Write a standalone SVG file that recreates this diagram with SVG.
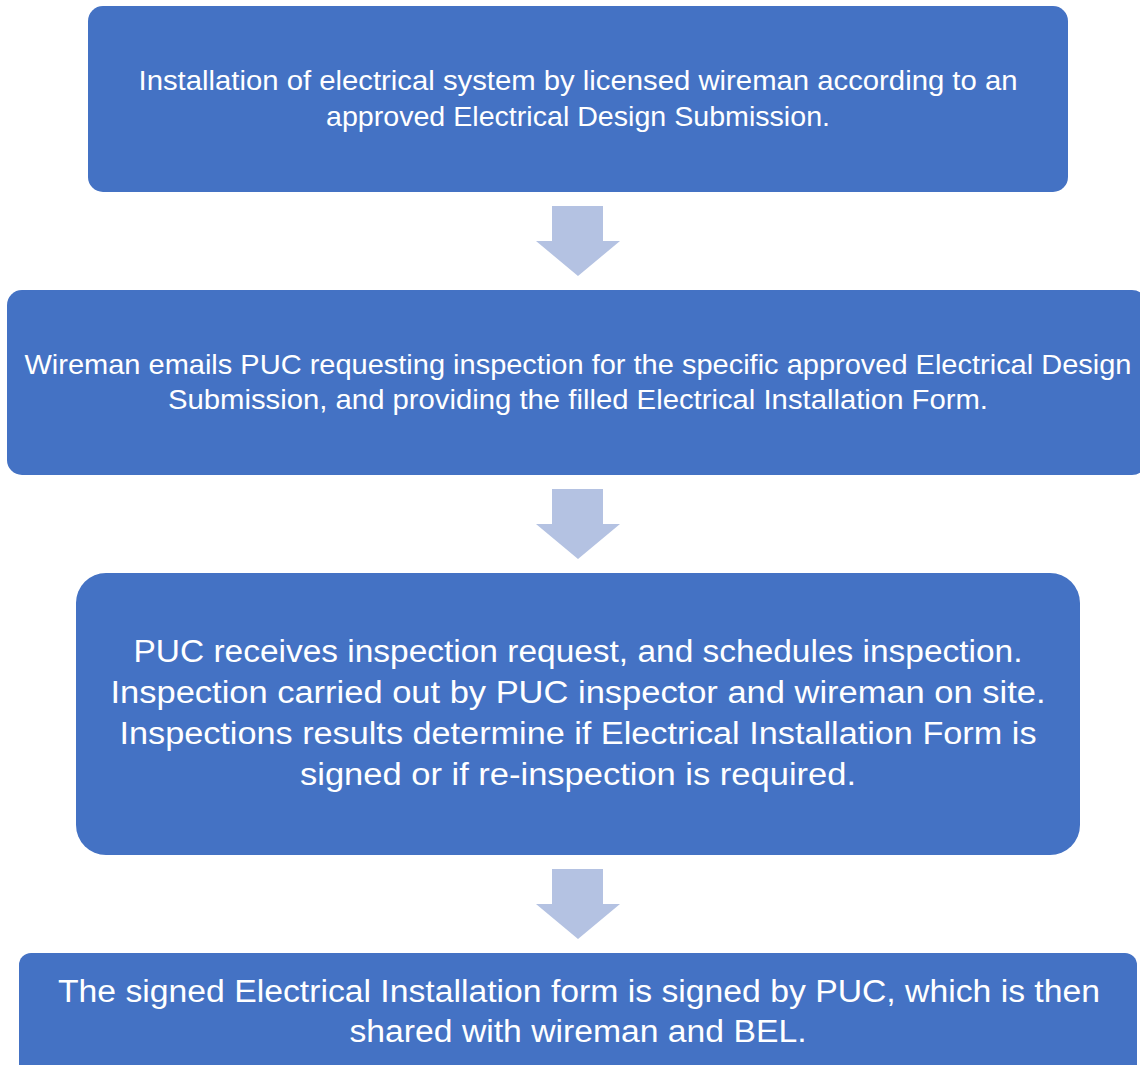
<svg xmlns="http://www.w3.org/2000/svg" width="1140" height="1065" viewBox="0 0 1140 1065">
<style>
.box{fill:#4472C4;}
.arr{fill:#B4C2E2;}
.t{font-family:"Liberation Sans",Arial,sans-serif;fill:#ffffff;text-anchor:middle;}
.s1{font-size:27.5px;}
.s2{font-size:31px;}
</style>
<rect width="1140" height="1065" fill="#ffffff"/>
<g id="connectors">
<polygon class="arr" points="552,206 603,206 603,241 620,241 578,276 536,241 552,241"/>
<polygon class="arr" points="552,489 603,489 603,524 620,524 578,559 536,524 552,524"/>
<polygon class="arr" points="552,869 603,869 603,904 620,904 578,939 536,904 552,904"/>
</g>
<g id="node1">
<rect class="box" x="88" y="6" width="980" height="186" rx="15"/>
<text class="t s1" x="578" y="90" textLength="879" lengthAdjust="spacingAndGlyphs">Installation of electrical system by licensed wireman according to an</text>
<text class="t s1" x="578" y="126" textLength="504" lengthAdjust="spacingAndGlyphs">approved Electrical Design Submission.</text>
</g>
<g id="node2">
<rect class="box" x="7" y="290" width="1140" height="185" rx="15"/>
<text class="t s1" x="578" y="374" textLength="1107" lengthAdjust="spacingAndGlyphs">Wireman emails PUC requesting inspection for the specific approved Electrical Design</text>
<text class="t s1" x="578" y="409" textLength="820" lengthAdjust="spacingAndGlyphs">Submission, and providing the filled Electrical Installation Form.</text>
</g>
<g id="node3">
<rect class="box" x="76" y="573" width="1004" height="282" rx="30"/>
<text class="t s2" x="578" y="662" textLength="889" lengthAdjust="spacingAndGlyphs">PUC receives inspection request, and schedules inspection.</text>
<text class="t s2" x="578" y="703" textLength="935" lengthAdjust="spacingAndGlyphs">Inspection carried out by PUC inspector and wireman on site.</text>
<text class="t s2" x="578" y="744" textLength="917" lengthAdjust="spacingAndGlyphs">Inspections results determine if Electrical Installation Form is</text>
<text class="t s2" x="578" y="785" textLength="556" lengthAdjust="spacingAndGlyphs">signed or if re-inspection is required.</text>
</g>
<g id="node4">
<rect class="box" x="19" y="953" width="1118" height="140" rx="12"/>
<text class="t s2" x="579" y="1002" textLength="1042" lengthAdjust="spacingAndGlyphs">The signed Electrical Installation form is signed by PUC, which is then</text>
<text class="t s2" x="578" y="1042" textLength="457" lengthAdjust="spacingAndGlyphs">shared with wireman and BEL.</text>
</g>
</svg>
